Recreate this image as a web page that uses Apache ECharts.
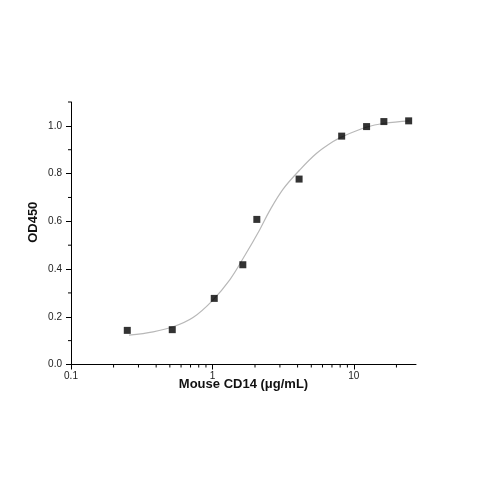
<!DOCTYPE html>
<html>
<head>
<meta charset="utf-8">
<script src="https://cdn.jsdelivr.net/npm/echarts@6/dist/echarts.min.js"></script>
<style>
html,body{margin:0;padding:0;background:#fff;}
#chart{width:479px;height:479px;}
</style>
</head>
<body>
<div id="chart"></div>
<script>
// Measured points (concentration µg/mL, OD450)
const concentrations = [0.25, 0.52, 1.03, 1.64, 2.06, 4.1, 8.2, 12.3, 16.3, 24.4];
const od450 = [0.143, 0.146, 0.277, 0.418, 0.608, 0.777, 0.957, 0.997, 1.018, 1.021];

// Fitted curve
const fitX = [0.257, 0.381, 0.527, 0.729, 1.0, 1.33, 1.65, 2.16, 2.54, 3.16, 4.14, 5.43, 7.13, 8.38, 12.2, 16.5, 24.8];
const fitY = [0.123, 0.137, 0.158, 0.197, 0.268, 0.356, 0.445, 0.565, 0.645, 0.735, 0.815, 0.884, 0.934, 0.956, 0.994, 1.011, 1.021];

// Axis ticks
const xMajorTicks = [0.1, 1, 10];
const xMinorTicks = [0.2, 0.3, 0.4, 0.5, 0.6, 0.7, 0.8, 0.9, 2, 3, 4, 5, 6, 7, 8, 9, 20];
const yMajorTicks = [0, 0.2, 0.4, 0.6, 0.8, 1.0];
const yMinorTicks = [0.1, 0.3, 0.5, 0.7, 0.9, 1.1];

const X_MIN = 0.1, X_MAX = 27.5, Y_MIN = 0, Y_MAX = 1.1;

const chart = echarts.init(document.getElementById('chart'));

const tickStyle = {stroke: '#000', lineWidth: 1};

chart.setOption({
  animation: false,
  backgroundColor: '#fff',
  grid: {left: 71, top: 102, right: 63, bottom: 114.5, containLabel: false},
  xAxis: {
    type: 'log', logBase: 10, min: X_MIN, max: X_MAX,
    name: 'Mouse CD14 (μg/mL)', nameLocation: 'middle', nameGap: 13, nameMoveOverlap: false,
    nameTextStyle: {fontFamily: 'Liberation Sans', fontWeight: 'bold', fontSize: 13, color: '#111'},
    axisLine: {show: true, onZero: false, lineStyle: {color: '#000', width: 1}},
    axisTick: {show: true, inside: false, length: 5, customValues: xMajorTicks, lineStyle: {color: '#000'}},
    axisLabel: {show: true, margin: 7, customValues: xMajorTicks, fontFamily: 'Liberation Sans', fontSize: 10, color: '#222',
      formatter: v => String(v)},
    splitLine: {show: false}, minorTick: {show: false}
  },
  yAxis: {
    type: 'value', min: Y_MIN, max: Y_MAX, interval: 0.2,
    name: 'OD450', nameLocation: 'middle', nameGap: 31, nameRotate: 90, nameMoveOverlap: false,
    nameTextStyle: {fontFamily: 'Liberation Sans', fontWeight: 'bold', fontSize: 13, color: '#111', padding: [0, 0, 0, 22]},
    axisLine: {show: true, onZero: false, lineStyle: {color: '#000', width: 1}},
    axisTick: {show: true, inside: false, length: 5, customValues: yMajorTicks, lineStyle: {color: '#000'}},
    axisLabel: {show: true, margin: 9, customValues: yMajorTicks, fontFamily: 'Liberation Sans', fontSize: 10, color: '#222',
      formatter: v => v.toFixed(1)},
    splitLine: {show: false}
  },
  series: [
    {
      type: 'line', name: 'fit', data: fitX.map((x, i) => [x, fitY[i]]),
      smooth: 0.35, showSymbol: false, symbol: 'none',
      lineStyle: {color: '#b8b8b8', width: 1.2}, z: 2
    },
    {
      type: 'scatter', name: 'data', data: concentrations.map((x, i) => [x, od450[i]]),
      symbol: 'rect', symbolSize: 7, itemStyle: {color: '#000'}, z: 3
    },
    {
      type: 'custom', name: 'xMinor', clip: false, silent: true,
      data: xMinorTicks.map(v => [v, Y_MIN]),
      renderItem: (params, api) => {
        const p = api.coord([api.value(0), api.value(1)]);
        return {type: 'line', shape: {x1: p[0], y1: p[1], x2: p[0], y2: p[1] + 3}, style: tickStyle};
      }
    },
    {
      type: 'custom', name: 'yMinor', clip: false, silent: true,
      data: yMinorTicks.map(v => [X_MIN, v]),
      renderItem: (params, api) => {
        const p = api.coord([api.value(0), api.value(1)]);
        return {type: 'line', shape: {x1: p[0], y1: p[1], x2: p[0] - 3, y2: p[1]}, style: tickStyle};
      }
    }
  ]
});
</script>
</body>
</html>
